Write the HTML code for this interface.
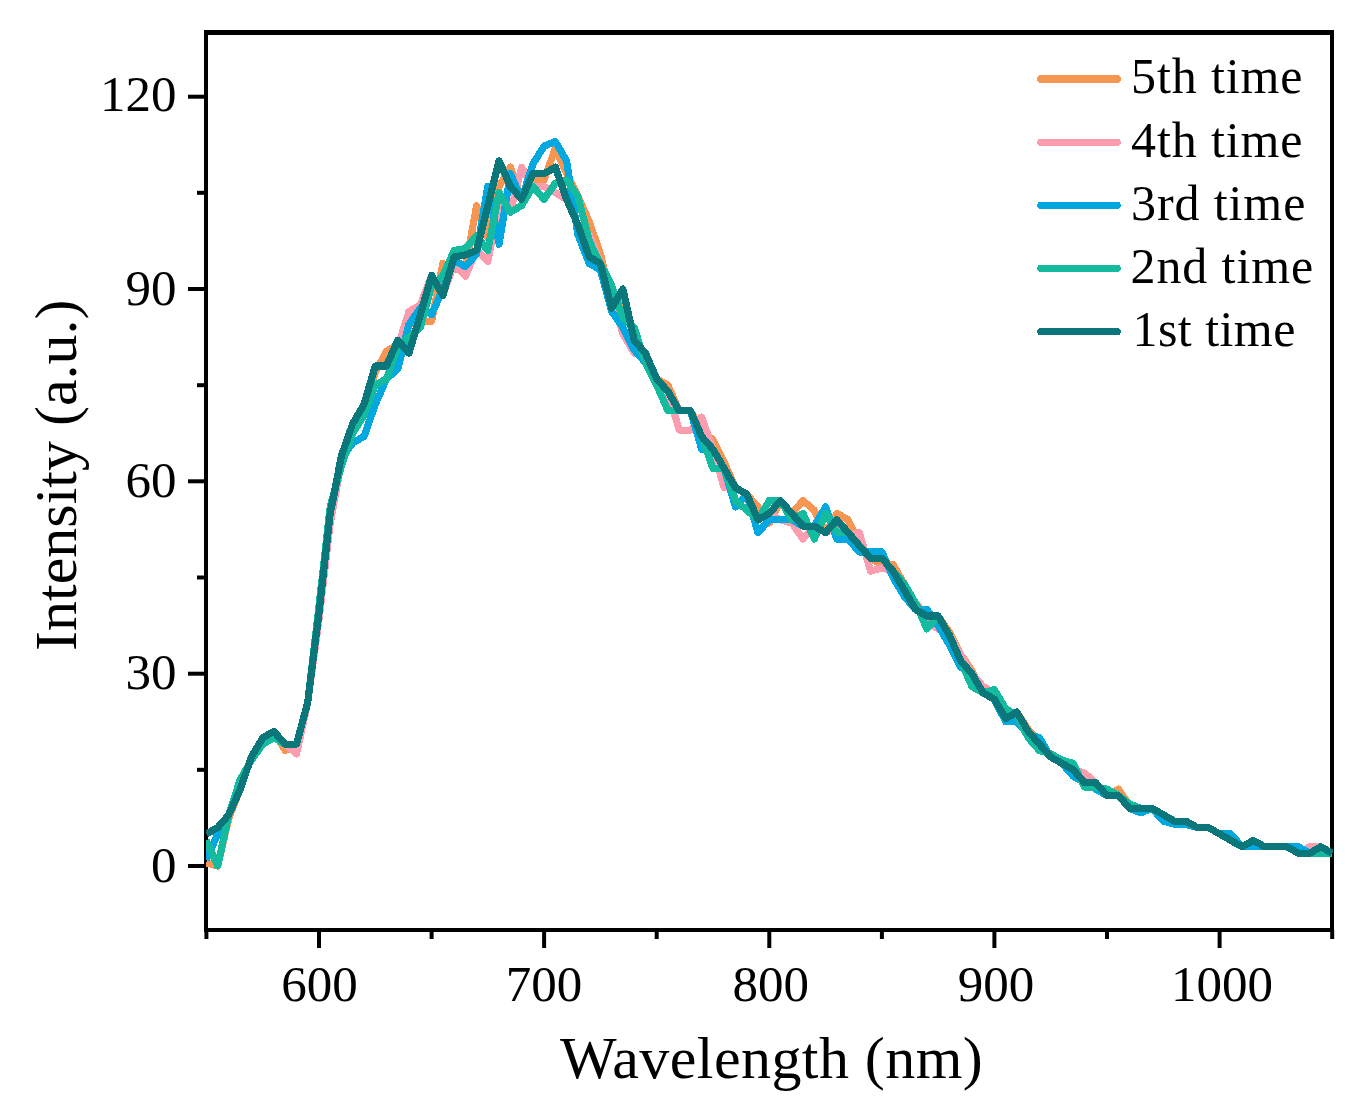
<!DOCTYPE html>
<html><head><meta charset="utf-8"><style>
html,body{margin:0;padding:0;background:#fff;}
svg{display:block;}
text{font-family:"Liberation Serif",serif;fill:#000;}
</style></head><body>
<svg width="1363" height="1117" viewBox="0 0 1363 1117">
<rect x="0" y="0" width="1363" height="1117" fill="#fff"/>
<defs><clipPath id="pc"><rect x="206" y="30" width="1127" height="902"/></clipPath></defs>
<g fill="#000">
<rect x="204" y="30" width="1130" height="5"/>
<rect x="204" y="928" width="1130" height="4"/>
<rect x="204" y="30" width="4" height="902"/>
<rect x="1330" y="30" width="4" height="902"/>
</g>
<g fill="none" stroke-width="7.2" stroke-linejoin="round" stroke-linecap="butt" clip-path="url(#pc)" shape-rendering="crispEdges">
<path d="M206.4,862.8 L217.7,866.0 L228.9,817.9 L240.2,789.1 L251.4,757.0 L262.7,737.8 L273.9,731.4 L285.2,750.6 L296.5,744.2 L307.7,702.5 L319.0,609.6 L330.2,519.8 L341.5,455.7 L352.7,423.6 L364.0,404.4 L375.3,372.4 L386.5,351.2 L397.8,344.8 L409.0,324.3 L420.3,321.1 L431.6,321.1 L442.8,263.4 L454.1,269.8 L465.3,267.9 L476.6,205.7 L487.8,237.7 L499.1,186.4 L510.4,167.2 L521.6,199.3 L532.9,180.0 L544.1,180.0 L555.4,148.0 L566.6,173.6 L577.9,196.1 L589.2,221.7 L600.4,253.7 L611.7,301.8 L622.9,295.4 L634.2,340.3 L645.4,353.1 L656.7,378.8 L668.0,385.2 L679.2,410.8 L690.5,410.8 L701.7,430.1 L713.0,439.7 L724.2,462.1 L735.5,487.8 L746.8,494.2 L758.0,507.0 L769.3,523.0 L780.5,500.6 L791.8,513.4 L803.0,500.6 L814.3,510.2 L825.6,532.6 L836.8,513.4 L848.1,519.8 L859.3,542.2 L870.6,558.3 L881.9,564.7 L893.1,564.7 L904.4,583.9 L915.6,603.1 L926.9,616.0 L938.1,616.0 L949.4,632.0 L960.7,654.4 L971.9,670.5 L983.2,692.9 L994.4,699.3 L1005.7,718.5 L1016.9,712.1 L1028.2,729.4 L1039.5,741.0 L1050.7,757.0 L1062.0,763.4 L1073.2,769.8 L1084.5,782.7 L1095.7,782.7 L1107.0,795.5 L1118.3,789.1 L1129.5,805.1 L1140.8,808.3 L1152.0,808.3 L1163.3,814.7 L1174.5,821.1 L1185.8,821.1 L1197.1,827.5 L1208.3,827.5 L1219.6,833.9 L1230.8,840.4 L1242.1,846.8 L1253.3,840.4 L1264.6,846.8 L1275.9,846.8 L1287.1,846.8 L1298.4,853.2 L1309.6,853.2 L1320.9,846.8 L1332.2,853.2" stroke="#f79553"/>
<path d="M206.4,833.9 L217.7,827.5 L228.9,814.7 L240.2,789.1 L251.4,757.0 L262.7,737.8 L273.9,731.4 L285.2,744.2 L296.5,753.8 L307.7,702.5 L319.0,619.2 L330.2,523.0 L341.5,462.1 L352.7,423.6 L364.0,404.4 L375.3,365.9 L386.5,365.9 L397.8,346.7 L409.0,311.4 L420.3,305.0 L431.6,275.5 L442.8,295.4 L454.1,263.4 L465.3,276.2 L476.6,250.5 L487.8,261.4 L499.1,205.7 L510.4,212.1 L521.6,167.2 L532.9,186.4 L544.1,186.4 L555.4,192.8 L566.6,199.3 L577.9,224.9 L589.2,234.5 L600.4,263.4 L611.7,295.4 L622.9,333.9 L634.2,353.1 L645.4,353.1 L656.7,378.8 L668.0,391.6 L679.2,430.1 L690.5,430.1 L701.7,417.2 L713.0,449.3 L724.2,487.8 L735.5,487.8 L746.8,494.2 L758.0,519.8 L769.3,513.4 L780.5,519.8 L791.8,523.0 L803.0,539.0 L814.3,526.2 L825.6,532.6 L836.8,526.2 L848.1,535.8 L859.3,532.6 L870.6,571.1 L881.9,567.9 L893.1,571.1 L904.4,590.3 L915.6,603.1 L926.9,622.4 L938.1,628.8 L949.4,635.2 L960.7,654.4 L971.9,673.7 L983.2,686.5 L994.4,692.9 L1005.7,718.5 L1016.9,712.1 L1028.2,731.4 L1039.5,744.2 L1050.7,757.0 L1062.0,763.4 L1073.2,769.8 L1084.5,773.0 L1095.7,782.7 L1107.0,795.5 L1118.3,795.5 L1129.5,808.3 L1140.8,808.3 L1152.0,808.3 L1163.3,814.7 L1174.5,821.1 L1185.8,821.1 L1197.1,827.5 L1208.3,827.5 L1219.6,833.9 L1230.8,840.4 L1242.1,846.8 L1253.3,840.4 L1264.6,846.8 L1275.9,846.8 L1287.1,846.8 L1298.4,853.2 L1309.6,846.8 L1320.9,846.8 L1332.2,853.2" stroke="#fc9caf"/>
<path d="M206.4,859.6 L217.7,833.9 L228.9,814.7 L240.2,789.1 L251.4,757.0 L262.7,737.8 L273.9,731.4 L285.2,744.2 L296.5,744.2 L307.7,702.5 L319.0,612.8 L330.2,513.4 L341.5,458.9 L352.7,442.9 L364.0,436.5 L375.3,404.4 L386.5,378.8 L397.8,369.1 L409.0,324.3 L420.3,308.2 L431.6,314.7 L442.8,289.0 L454.1,260.2 L465.3,266.6 L476.6,253.7 L487.8,186.4 L499.1,244.1 L510.4,173.6 L521.6,199.3 L532.9,164.0 L544.1,146.0 L555.4,141.6 L566.6,160.8 L577.9,234.5 L589.2,263.4 L600.4,269.8 L611.7,311.4 L622.9,327.5 L634.2,349.9 L645.4,362.7 L656.7,378.8 L668.0,391.6 L679.2,410.8 L690.5,410.8 L701.7,449.3 L713.0,449.3 L724.2,468.5 L735.5,507.0 L746.8,494.2 L758.0,532.6 L769.3,519.8 L780.5,519.8 L791.8,519.8 L803.0,526.2 L814.3,526.2 L825.6,507.0 L836.8,539.0 L848.1,539.0 L859.3,551.9 L870.6,551.9 L881.9,551.9 L893.1,577.5 L904.4,596.7 L915.6,609.6 L926.9,609.6 L938.1,625.6 L949.4,644.8 L960.7,667.3 L971.9,673.7 L983.2,692.9 L994.4,699.3 L1005.7,721.8 L1016.9,721.8 L1028.2,734.6 L1039.5,737.8 L1050.7,757.0 L1062.0,763.4 L1073.2,776.2 L1084.5,782.7 L1095.7,789.1 L1107.0,795.5 L1118.3,795.5 L1129.5,808.3 L1140.8,812.8 L1152.0,808.3 L1163.3,821.1 L1174.5,824.3 L1185.8,824.3 L1197.1,827.5 L1208.3,827.5 L1219.6,833.9 L1230.8,833.9 L1242.1,846.8 L1253.3,846.8 L1264.6,846.8 L1275.9,846.8 L1287.1,846.8 L1298.4,846.8 L1309.6,853.2 L1320.9,846.8 L1332.2,853.2" stroke="#03a8e0"/>
<path d="M206.4,840.4 L217.7,866.0 L228.9,814.7 L240.2,779.5 L251.4,760.2 L262.7,744.2 L273.9,737.8 L285.2,744.2 L296.5,744.2 L307.7,702.5 L319.0,606.4 L330.2,507.0 L341.5,465.3 L352.7,433.3 L364.0,415.3 L375.3,385.2 L386.5,378.8 L397.8,346.7 L409.0,337.1 L420.3,327.5 L431.6,285.8 L442.8,276.2 L454.1,250.5 L465.3,248.6 L476.6,235.8 L487.8,250.5 L499.1,192.8 L510.4,212.1 L521.6,205.7 L532.9,186.4 L544.1,199.3 L555.4,183.2 L566.6,180.0 L577.9,196.1 L589.2,240.9 L600.4,263.4 L611.7,285.8 L622.9,317.9 L634.2,327.5 L645.4,362.7 L656.7,385.2 L668.0,410.8 L679.2,410.8 L690.5,410.8 L701.7,436.5 L713.0,468.5 L724.2,468.5 L735.5,500.6 L746.8,510.2 L758.0,519.8 L769.3,500.6 L780.5,500.6 L791.8,519.8 L803.0,513.4 L814.3,539.0 L825.6,513.4 L836.8,532.6 L848.1,532.6 L859.3,545.5 L870.6,558.3 L881.9,558.3 L893.1,571.1 L904.4,583.9 L915.6,603.1 L926.9,628.8 L938.1,616.0 L949.4,635.2 L960.7,660.8 L971.9,686.5 L983.2,692.9 L994.4,689.7 L1005.7,708.9 L1016.9,715.3 L1028.2,737.8 L1039.5,750.6 L1050.7,753.8 L1062.0,760.2 L1073.2,763.4 L1084.5,787.1 L1095.7,787.1 L1107.0,789.1 L1118.3,795.5 L1129.5,803.8 L1140.8,808.3 L1152.0,808.3 L1163.3,814.7 L1174.5,821.1 L1185.8,821.1 L1197.1,827.5 L1208.3,827.5 L1219.6,833.9 L1230.8,840.4 L1242.1,846.8 L1253.3,840.4 L1264.6,846.8 L1275.9,846.8 L1287.1,846.8 L1298.4,853.2 L1309.6,853.2 L1320.9,853.2 L1332.2,853.2" stroke="#14bb9f"/>
<path d="M206.4,833.9 L217.7,827.5 L228.9,814.7 L240.2,789.1 L251.4,757.0 L262.7,737.8 L273.9,731.4 L285.2,744.2 L296.5,744.2 L307.7,702.5 L319.0,612.8 L330.2,513.4 L341.5,455.7 L352.7,423.6 L364.0,404.4 L375.3,365.9 L386.5,365.9 L397.8,340.3 L409.0,353.1 L420.3,314.7 L431.6,275.5 L442.8,295.4 L454.1,257.0 L465.3,255.0 L476.6,250.5 L487.8,205.7 L499.1,160.8 L510.4,186.4 L521.6,199.3 L532.9,173.6 L544.1,173.6 L555.4,167.2 L566.6,199.3 L577.9,224.9 L589.2,257.0 L600.4,263.4 L611.7,308.2 L622.9,289.0 L634.2,340.3 L645.4,353.1 L656.7,378.8 L668.0,391.6 L679.2,410.8 L690.5,410.8 L701.7,436.5 L713.0,449.3 L724.2,468.5 L735.5,487.8 L746.8,494.2 L758.0,519.8 L769.3,513.4 L780.5,500.6 L791.8,513.4 L803.0,526.2 L814.3,526.2 L825.6,532.6 L836.8,519.8 L848.1,532.6 L859.3,545.5 L870.6,558.3 L881.9,558.3 L893.1,571.1 L904.4,590.3 L915.6,609.6 L926.9,616.0 L938.1,616.0 L949.4,635.2 L960.7,660.8 L971.9,673.7 L983.2,692.9 L994.4,699.3 L1005.7,718.5 L1016.9,712.1 L1028.2,731.4 L1039.5,744.2 L1050.7,757.0 L1062.0,763.4 L1073.2,769.8 L1084.5,782.7 L1095.7,782.7 L1107.0,795.5 L1118.3,795.5 L1129.5,808.3 L1140.8,808.3 L1152.0,808.3 L1163.3,814.7 L1174.5,821.1 L1185.8,821.1 L1197.1,827.5 L1208.3,827.5 L1219.6,833.9 L1230.8,840.4 L1242.1,846.8 L1253.3,840.4 L1264.6,846.8 L1275.9,846.8 L1287.1,846.8 L1298.4,853.2 L1309.6,853.2 L1320.9,846.8 L1332.2,853.2" stroke="#0b777a"/>
</g>
<g stroke="#000" stroke-width="4">
<line x1="319.0" y1="930" x2="319.0" y2="948"/>
<line x1="544.1" y1="930" x2="544.1" y2="948"/>
<line x1="769.3" y1="930" x2="769.3" y2="948"/>
<line x1="994.4" y1="930" x2="994.4" y2="948"/>
<line x1="1219.6" y1="930" x2="1219.6" y2="948"/>
<line x1="206.4" y1="930" x2="206.4" y2="939"/>
<line x1="431.6" y1="930" x2="431.6" y2="939"/>
<line x1="656.7" y1="930" x2="656.7" y2="939"/>
<line x1="881.9" y1="930" x2="881.9" y2="939"/>
<line x1="1107.0" y1="930" x2="1107.0" y2="939"/>
<line x1="1332.2" y1="930" x2="1332.2" y2="939"/>
<line x1="188" y1="866.0" x2="206" y2="866.0"/>
<line x1="188" y1="673.7" x2="206" y2="673.7"/>
<line x1="188" y1="481.3" x2="206" y2="481.3"/>
<line x1="188" y1="289.0" x2="206" y2="289.0"/>
<line x1="188" y1="96.7" x2="206" y2="96.7"/>
<line x1="197" y1="769.8" x2="206" y2="769.8"/>
<line x1="197" y1="577.5" x2="206" y2="577.5"/>
<line x1="197" y1="385.2" x2="206" y2="385.2"/>
<line x1="197" y1="192.8" x2="206" y2="192.8"/>
</g>
<g font-size="50">
<text x="319.5" y="1000.5" text-anchor="middle" font-size="51">600</text>
<text x="544.1" y="1000.5" text-anchor="middle" font-size="51">700</text>
<text x="770.8" y="1000.5" text-anchor="middle" font-size="51">800</text>
<text x="995.9" y="1000.5" text-anchor="middle" font-size="51">900</text>
<text x="1222.1" y="1000.5" text-anchor="middle" font-size="51">1000</text>
<text x="176.5" y="882.0" text-anchor="end" font-size="51">0</text>
<text x="176.5" y="688.7" text-anchor="end" font-size="51">30</text>
<text x="176.5" y="497.3" text-anchor="end" font-size="51">60</text>
<text x="176.5" y="305.0" text-anchor="end" font-size="51">90</text>
<text x="176.5" y="111.2" text-anchor="end" font-size="51">120</text>
</g>
<g font-size="50">
<line x1="1041" y1="79" x2="1117" y2="79" stroke="#f79553" stroke-width="7.5" stroke-linecap="round" shape-rendering="crispEdges"/>
<text x="1131" y="93.3" letter-spacing="0.9">5th time</text>
<line x1="1041" y1="142.4" x2="1117" y2="142.4" stroke="#fc9caf" stroke-width="7.5" stroke-linecap="round" shape-rendering="crispEdges"/>
<text x="1131" y="156.7" letter-spacing="0.9">4th time</text>
<line x1="1041" y1="205.4" x2="1117" y2="205.4" stroke="#03a8e0" stroke-width="7.5" stroke-linecap="round" shape-rendering="crispEdges"/>
<text x="1131" y="219.7" letter-spacing="0.9">3rd time</text>
<line x1="1041" y1="268.4" x2="1117" y2="268.4" stroke="#14bb9f" stroke-width="7.5" stroke-linecap="round" shape-rendering="crispEdges"/>
<text x="1130.5" y="282.7" letter-spacing="0.9">2nd time</text>
<line x1="1041" y1="331.5" x2="1117" y2="331.5" stroke="#0b777a" stroke-width="7.5" stroke-linecap="round" shape-rendering="crispEdges"/>
<text x="1132.5" y="345.8" letter-spacing="0.45">1st time</text>
</g>
<text x="560" y="1078" font-size="60" letter-spacing="0.43">Wavelength (nm)</text>
<text transform="translate(76,651) rotate(-90)" font-size="60">Intensity (a.u.)</text>
</svg>
</body></html>
